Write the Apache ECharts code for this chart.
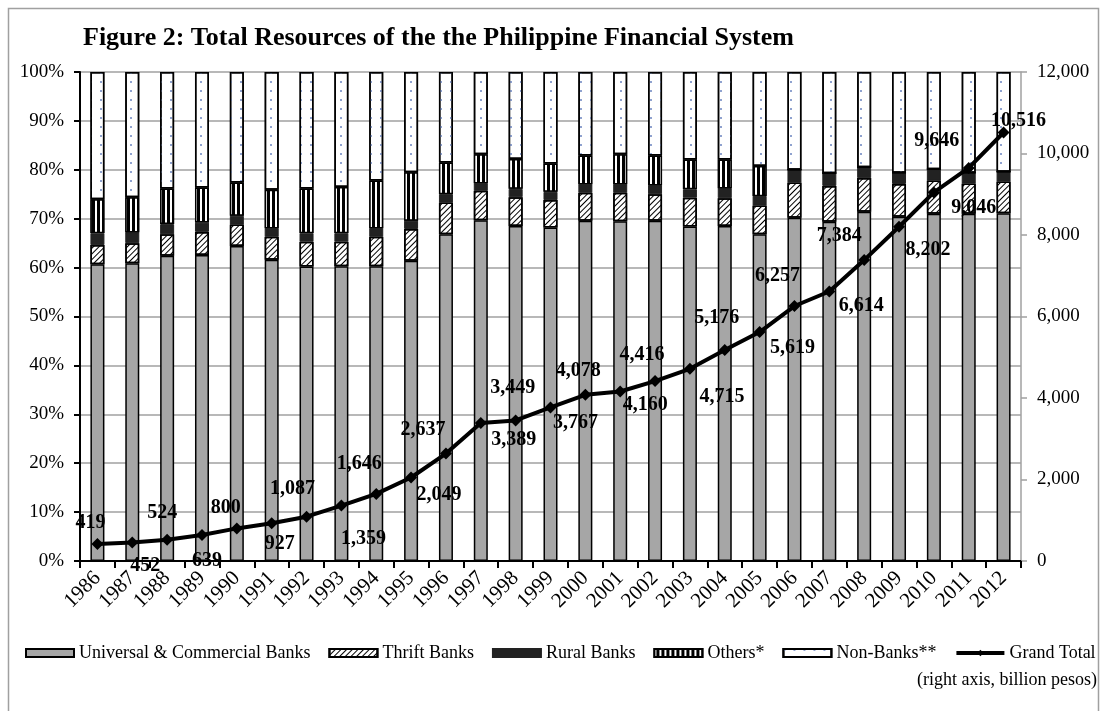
<!DOCTYPE html>
<html>
<head>
<meta charset="utf-8">
<script src="https://cdn.jsdelivr.net/npm/echarts@6/dist/echarts.min.js"></script>
<style>
  html, body { margin: 0; padding: 0; background: #fff; }
  #chart { width: 1106px; height: 711px; }
</style>
</head>
<body>
<div id="chart"></div>
<script>
// years on the x axis
var years = ['1986', '1987', '1988', '1989', '1990', '1991', '1992', '1993', '1994',
  '1995', '1996', '1997', '1998', '1999', '2000', '2001', '2002', '2003', '2004',
  '2005', '2006', '2007', '2008', '2009', '2010', '2011', '2012'];

// shares of total resources, in percent (left axis)
var universal = [60.7, 60.9, 62.4, 62.6, 64.4, 61.6, 60.2, 60.3, 60.3, 61.4, 66.8, 69.7, 68.5, 68.2,
  69.6, 69.5, 69.6, 68.4, 68.5, 66.8, 70.2, 69.4, 71.4, 70.4, 71.0, 71.0, 71.1];
var thrift = [3.9, 4.1, 4.4, 4.7, 4.4, 4.7, 5.1, 5.0, 6.0, 6.5, 6.5, 6.0, 5.9, 5.6,
  5.7, 5.8, 5.4, 5.9, 5.7, 5.9, 7.2, 7.3, 6.9, 6.7, 6.8, 6.2, 6.5];
var rural = [2.4, 2.2, 2.1, 1.9, 1.8, 1.7, 1.7, 1.7, 1.7, 1.7, 1.7, 1.5, 1.7, 1.7,
  1.7, 1.7, 1.8, 1.7, 2.0, 1.9, 2.6, 2.6, 2.2, 2.3, 2.3, 2.2, 2.0];
var others = [7.0, 7.2, 7.3, 7.2, 6.8, 7.9, 9.2, 9.5, 9.8, 9.9, 6.5, 6.0, 6.1, 5.8,
  5.9, 6.2, 6.1, 6.1, 5.9, 6.2, 0, 0, 0, 0, 0, 0, 0];
var nonBanks = [26.0, 25.6, 23.8, 23.6, 22.6, 24.1, 23.8, 23.5, 22.2, 20.5, 18.5, 16.8, 17.8, 18.7,
  17.1, 16.8, 17.1, 17.9, 17.9, 19.2, 20.0, 20.7, 19.5, 20.6, 19.9, 20.6, 20.4];

// grand total, billion pesos (right axis)
var grandTotal = [419, 452, 524, 639, 800, 927, 1087, 1359, 1646, 2049, 2637, 3389, 3449, 3767,
  4078, 4160, 4416, 4715, 5176, 5619, 6257, 6614, 7384, 8202, 9046, 9646, 10516];

// where each total label sits relative to its point (px)
var labelOffsets = [[-7, -21], [13, 23], [-5, -27], [5, 26], [-11, -21], [8, 21], [-14, -28],
  [22, 33], [-17, -30], [28, 17], [-23, -24], [33, 17], [-3, -33], [25, 15], [-7, -24],
  [25, 13], [-13, -26], [32, 28], [-8, -32], [33, 16], [-17, -30], [32, 14], [-25, -24],
  [29, 23], [40, 15], [-32, -27], [15, -12]];

var serif = '"Liberation Serif", "Times New Roman", serif';

function fmt(v) {
  return String(v).replace(/\B(?=(\d{3})+(?!\d))/g, ',');
}

var barBase = {
  type: 'bar',
  stack: 'share',
  barWidth: 14,
  yAxisIndex: 0
};

var option = {
  animation: false,
  textStyle: { fontFamily: serif, color: '#000' },
  title: {
    text: 'Figure 2: Total Resources of the the Philippine Financial System',
    left: 78,
    top: 20,
    textStyle: { fontFamily: serif, fontSize: 26, fontWeight: 'bold', color: '#000' }
  },
  grid: { left: 80, right: 85, top: 72, bottom: 150 },
  legend: {
    left: 20,
    top: 639,
    itemWidth: 48,
    itemHeight: 8,
    itemGap: 18,
    selectedMode: false,
    textStyle: { fontFamily: serif, fontSize: 18, color: '#000' },
    data: [
      { name: 'Universal & Commercial Banks', icon: 'rect' },
      { name: 'Thrift Banks', icon: 'rect' },
      { name: 'Rural Banks', icon: 'rect' },
      { name: 'Others*', icon: 'rect' },
      { name: 'Non-Banks**', icon: 'rect' },
      { name: 'Grand Total', lineStyle: { width: 4 } }
    ]
  },
  xAxis: {
    type: 'category',
    data: years,
    axisLine: { lineStyle: { color: '#000', width: 2 } },
    axisTick: { show: true, length: 7, interval: 0, lineStyle: { color: '#000', width: 2 } },
    axisLabel: { interval: 0, rotate: 45, margin: 14, fontSize: 21, fontFamily: serif, color: '#000' },
    splitLine: { show: false }
  },
  yAxis: [
    {
      type: 'value',
      min: 0,
      max: 100,
      interval: 10,
      axisLine: { show: true, lineStyle: { color: '#000', width: 2 } },
      axisTick: { show: true, length: 6, lineStyle: { color: '#000', width: 2 } },
      axisLabel: { formatter: '{value}%', margin: 16, fontSize: 19, fontFamily: serif, color: '#000' },
      splitLine: { show: true, lineStyle: { color: '#a0a0a0', width: 1.5 } }
    },
    {
      type: 'value',
      min: 0,
      max: 12000,
      interval: 2000,
      position: 'right',
      axisLine: { show: true, lineStyle: { color: '#a0a0a0', width: 1.5 } },
      axisTick: { show: true, length: 6, lineStyle: { color: '#a0a0a0', width: 1.5 } },
      axisLabel: { formatter: fmt, margin: 16, fontSize: 19, fontFamily: serif, color: '#000' },
      splitLine: { show: false }
    }
  ],
  series: [
    Object.assign({}, barBase, {
      name: 'Universal & Commercial Banks',
      data: universal,
      itemStyle: { color: '#a6a6a6', borderColor: '#000', borderWidth: 1.5 }
    }),
    Object.assign({}, barBase, {
      name: 'Thrift Banks',
      data: thrift,
      itemStyle: {
        color: '#fff', borderColor: '#000', borderWidth: 1.5,
        decal: { symbol: 'rect', color: '#000', dashArrayX: [1, 0], dashArrayY: [1, 2.2], rotation: -Math.PI / 4, symbolSize: 1 }
      }
    }),
    Object.assign({}, barBase, {
      name: 'Rural Banks',
      data: rural,
      itemStyle: { color: '#222', borderColor: '#222', borderWidth: 1 }
    }),
    Object.assign({}, barBase, {
      name: 'Others*',
      data: others,
      itemStyle: {
        color: '#000', borderColor: '#000', borderWidth: 1.5,
        decal: { symbol: 'rect', color: '#fff', dashArrayX: [2, 2.5], dashArrayY: [1, 0], symbolSize: 1 }
      }
    }),
    Object.assign({}, barBase, {
      name: 'Non-Banks**',
      data: nonBanks,
      itemStyle: {
        color: '#fff', borderColor: '#000', borderWidth: 1.5,
        decal: { symbol: 'rect', color: '#8fa2cf', dashArrayX: [1.5, 7.5], dashArrayY: [1.5, 6.5], symbolSize: 1 }
      }
    }),
    {
      name: 'Grand Total',
      type: 'line',
      yAxisIndex: 1,
      z: 5,
      symbol: 'diamond',
      symbolSize: 12,
      itemStyle: { color: '#000' },
      lineStyle: { color: '#000', width: 4 },
      label: {
        show: true,
        position: 'inside',
        fontFamily: serif,
        fontSize: 20,
        fontWeight: 'bold',
        color: '#000',
        formatter: function (p) { return fmt(p.value); }
      },
      data: grandTotal.map(function (v, i) {
        return { value: v, label: { offset: labelOffsets[i] } };
      })
    }
  ],
  graphic: [
    {
      type: 'rect',
      silent: true,
      shape: { x: 8.5, y: 8.5, width: 1090, height: 720 },
      style: { fill: 'none', stroke: '#a0a0a0', lineWidth: 1.5 }
    },
    {
      type: 'text',
      right: 9,
      top: 671,
      style: { text: '(right axis, billion pesos)', font: '18px ' + serif, fill: '#000' }
    }
  ]
};

var chart = echarts.init(document.getElementById('chart'));
chart.setOption(option);
</script>
</body>
</html>
